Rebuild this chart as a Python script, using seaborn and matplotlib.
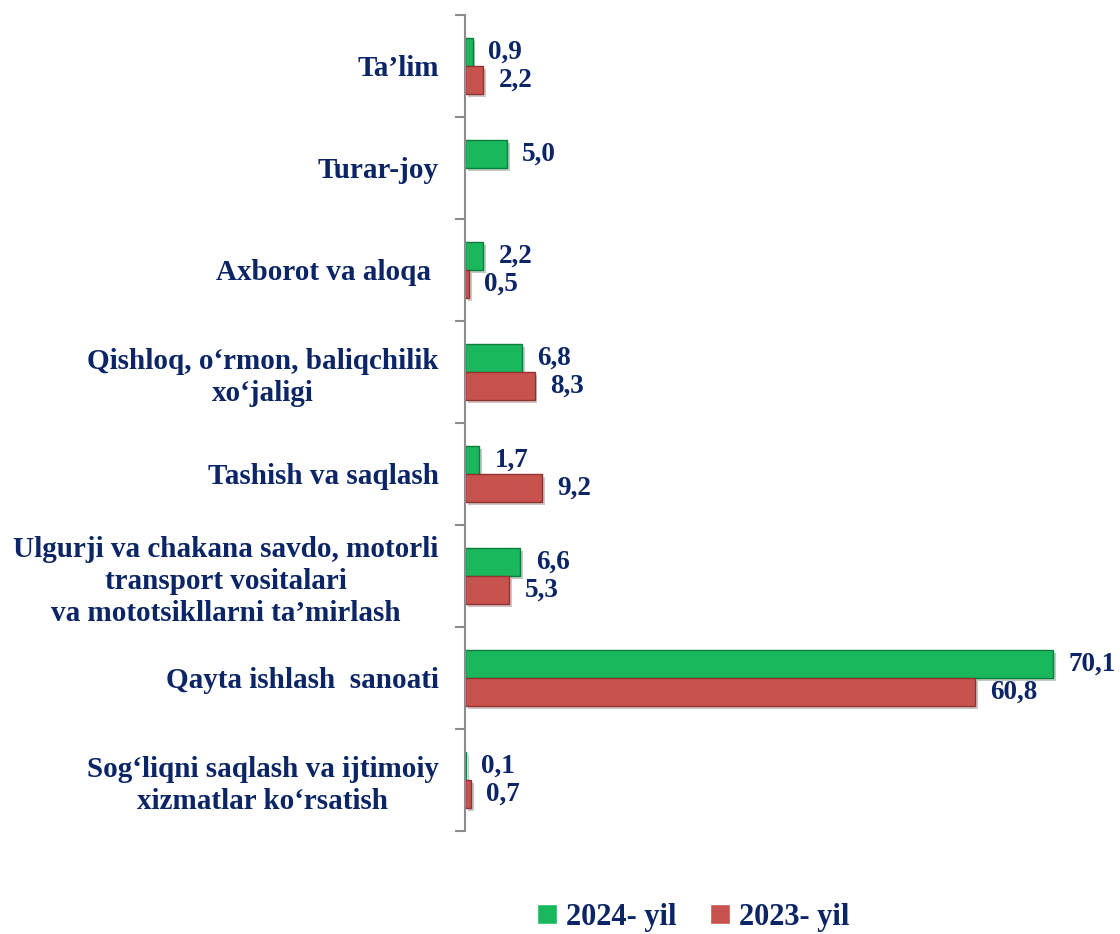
import numpy as np
import pandas as pd
import matplotlib
matplotlib.use("Agg")
import matplotlib.pyplot as plt
import matplotlib.patheffects as pe
import seaborn as sns

# data
categories = [
    "Ta’lim",
    "Turar-joy",
    "Axborot va aloqa ",
    "Qishloq, o‘rmon, baliqchilik\nxo‘jaligi",
    "Tashish va saqlash",
    "Ulgurji va chakana savdo, motorli\ntransport vositalari\nva mototsikllarni ta’mirlash",
    "Qayta ishlash  sanoati",
    "Sog‘liqni saqlash va ijtimoiy\nxizmatlar ko‘rsatish",
]
series_names = ["2024- yil", "2023- yil"]
values_2024 = [0.9, 5.0, 2.2, 6.8, 1.7, 6.6, 70.1, 0.1]
values_2023 = [2.2, np.nan, 0.5, 8.3, 9.2, 5.3, 60.8, 0.7]

colors = {"2024- yil": "#19b85d", "2023- yil": "#c8524e"}
edges = {"2024- yil": "#0b7f3c", "2023- yil": "#93332f"}
navy = "#0b2566"

df = pd.DataFrame({
    "cat": categories * 2,
    "year": [series_names[0]] * len(categories) + [series_names[1]] * len(categories),
    "val": values_2024 + values_2023,
})

sns.set_style("white")
plt.rcParams["font.family"] = ["Liberation Serif", "DejaVu Serif"]
plt.rcParams["font.weight"] = "bold"

fig = plt.figure(figsize=(11.2, 9.34), dpi=100)
ax = fig.add_axes([465 / 1120, 1 - 831 / 934, (1111 - 465) / 1120, (831 - 15) / 934])

sns.barplot(data=df, x="val", y="cat", hue="year", order=categories,
            hue_order=series_names, palette=colors, width=0.55, orient="h",
            saturation=1, ax=ax, legend=True)

for cont, name in zip(ax.containers, series_names):
    for bar in cont:
        bar.set_edgecolor(edges[name])
        bar.set_linewidth(1.0)
        bar.set_path_effects([pe.SimplePatchShadow(offset=(2, -2), alpha=0.25), pe.Normal()])
    labels = ["" if np.isnan(v) else f"{v:.1f}".replace(".", ",") for v in cont.datavalues]
    ax.bar_label(cont, labels=labels, padding=11, fontsize=19.5, fontweight="bold",
                 color=navy, clip_on=False)

ax.set_xlim(0, 77)
ax.set_ylim(len(categories) - 0.5, -0.5)
ax.set_xlabel("")
ax.set_ylabel("")
ax.set_xticks([])

for s in ["top", "right", "bottom"]:
    ax.spines[s].set_visible(False)
ax.spines["left"].set_color("#8c8c8c")
ax.spines["left"].set_linewidth(1.5)

ax.set_yticks(np.arange(len(categories)))
ax.set_yticklabels(categories, fontsize=21, fontweight="bold", color=navy,
                   multialignment="center", linespacing=1.25)
ax.tick_params(axis="y", which="major", left=False, length=0, pad=19)
ax.set_yticks(np.arange(-0.5, len(categories)), minor=True)
ax.tick_params(axis="y", which="minor", left=True, length=7, width=1.5,
               color="#8c8c8c", direction="out")

handles, _ = ax.get_legend_handles_labels()
ax.legend_.remove()
leg = fig.legend(handles, series_names, loc="center", bbox_to_anchor=(0.619, 0.018),
                 ncol=2, frameon=False, handlelength=0.65, handleheight=0.65,
                 handletextpad=0.3, columnspacing=1.1,
                 prop={"family": "Liberation Serif", "weight": "bold", "size": 22})
for t in leg.get_texts():
    t.set_color(navy)

fig.savefig("out.png", dpi=100)
